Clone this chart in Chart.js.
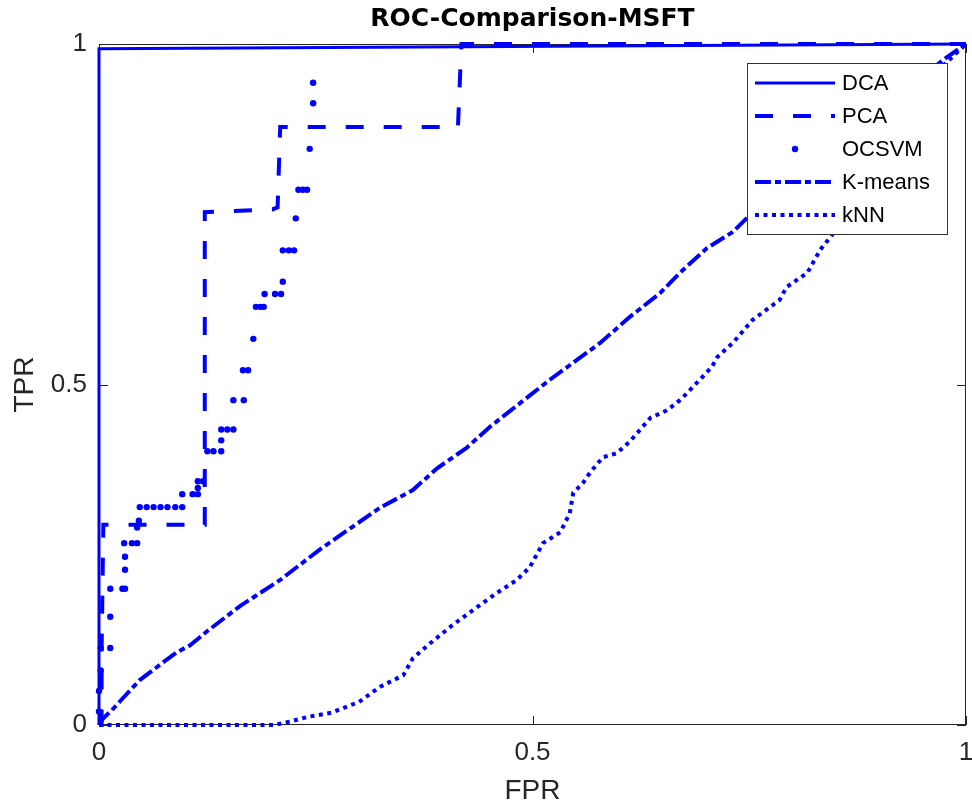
<!DOCTYPE html>
<html lang="en">
<head>
<meta charset="UTF-8">
<title>ROC-Comparison-MSFT</title>
<script src="https://cdn.jsdelivr.net/npm/chart.js"></script>
<style>
  html, body { margin: 0; padding: 0; background: #fff; }
  #wrap { width: 972px; height: 805px; }
</style>
</head>
<body>
<div id="wrap"><canvas id="chart" width="972" height="805"></canvas></div>
<script>
// ROC curves (FPR on x, TPR on y)
const dcaFpr = [0, 0, 1];
const dcaTpr = [0, 0.993, 1];

const pcaFpr = [0, 0.003, 0.003, 0.005, 0.122, 0.122, 0.2, 0.206, 0.209, 0.414, 0.418, 1];
const pcaTpr = [0, 0, 0.11, 0.294, 0.294, 0.753, 0.757, 0.76, 0.878, 0.878, 1, 1];

const ocsvmFpr = [0, 0, 0.002, 0.002, 0.013, 0.013, 0.013, 0.027, 0.03, 0.03, 0.03, 0.029, 0.038, 0.044, 0.044, 0.046,
  0.047, 0.055, 0.063, 0.071, 0.079, 0.088, 0.096, 0.096, 0.108, 0.114, 0.114, 0.114, 0.12, 0.125, 0.132, 0.141,
  0.141, 0.141, 0.148, 0.155, 0.155, 0.167, 0.166, 0.172, 0.178, 0.181, 0.186, 0.19, 0.191, 0.203, 0.21, 0.212,
  0.212, 0.219, 0.225, 0.227, 0.23, 0.235, 0.24, 0.243, 0.247, 0.247];
const ocsvmTpr = [0.02, 0.05, 0.08, 0.113, 0.113, 0.159, 0.2, 0.2, 0.2, 0.228, 0.247, 0.267, 0.267, 0.267, 0.29, 0.3,
  0.32, 0.32, 0.32, 0.32, 0.32, 0.32, 0.32, 0.339, 0.339, 0.339, 0.348, 0.358, 0.358, 0.402, 0.402, 0.402,
  0.418, 0.434, 0.434, 0.434, 0.477, 0.477, 0.521, 0.521, 0.567, 0.614, 0.614, 0.614, 0.633, 0.633, 0.633, 0.651,
  0.697, 0.697, 0.697, 0.744, 0.786, 0.786, 0.786, 0.846, 0.913, 0.943];

const kmeansFpr = [0, 0.005, 0.015, 0.028, 0.047, 0.073, 0.09, 0.105, 0.125, 0.163, 0.209, 0.255, 0.324, 0.362, 0.39,
  0.424, 0.451, 0.486, 0.52, 0.578, 0.612, 0.647, 0.67, 0.701, 0.731, 0.747, 0.85, 0.975, 1];
const kmeansTpr = [0, 0.01, 0.022, 0.04, 0.066, 0.091, 0.107, 0.117, 0.138, 0.175, 0.213, 0.258, 0.319, 0.345, 0.377,
  0.407, 0.438, 0.473, 0.507, 0.561, 0.599, 0.634, 0.664, 0.7, 0.724, 0.744, 0.85, 0.978, 1];

const knnFpr = [0, 0.1, 0.202, 0.22, 0.241, 0.268, 0.3, 0.324, 0.351, 0.362, 0.382, 0.408, 0.436, 0.459, 0.482, 0.497,
  0.512, 0.532, 0.543, 0.547, 0.558, 0.566, 0.581, 0.597, 0.612, 0.636, 0.655, 0.67, 0.678, 0.693, 0.707, 0.713,
  0.731, 0.754, 0.785, 0.793, 0.817, 0.832, 0.847, 0.9, 0.975, 1];
const knnTpr = [0, 0, 0, 0.005, 0.012, 0.018, 0.034, 0.056, 0.073, 0.098, 0.12, 0.147, 0.173, 0.194, 0.213, 0.232,
  0.267, 0.283, 0.311, 0.341, 0.355, 0.37, 0.393, 0.399, 0.416, 0.451, 0.462, 0.477, 0.487, 0.507, 0.526, 0.54,
  0.561, 0.595, 0.624, 0.643, 0.664, 0.698, 0.722, 0.84, 0.97, 1];

const seriesNames = ['DCA', 'PCA', 'OCSVM', 'K-means', 'kNN'];
const tickValues = [0, 0.5, 1];

const blue = '#0000ff';
const axisColor = '#262626';

function pts(xs, ys) {
  return xs.map((x, i) => ({ x: x, y: ys[i] }));
}

// MATLAB style box with inward ticks (under the data), legend on top
const matlabAxes = {
  id: 'matlabAxes',
  beforeDatasetsDraw(chart) {
    const { ctx, chartArea: a, scales } = chart;
    ctx.save();
    ctx.strokeStyle = axisColor;
    ctx.lineWidth = 1;
    ctx.strokeRect(a.left + 0.5, a.top + 0.5, a.right - a.left - 1, a.bottom - a.top - 1);
    const len = 9;
    ctx.beginPath();
    tickValues.forEach(v => {
      const px = Math.round(scales.x.getPixelForValue(v)) + 0.5;
      ctx.moveTo(px, a.bottom); ctx.lineTo(px, a.bottom - len);
      ctx.moveTo(px, a.top); ctx.lineTo(px, a.top + len);
      const py = Math.round(scales.y.getPixelForValue(v)) + 0.5;
      ctx.moveTo(a.left, py); ctx.lineTo(a.left + len, py);
      ctx.moveTo(a.right, py); ctx.lineTo(a.right - len, py);
    });
    ctx.stroke();
    ctx.restore();
  },
  afterDatasetsDraw(chart) {
    const { ctx, chartArea: a } = chart;
    ctx.save();
    const bw = 200, bh = 171;
    const bx = a.right - 19 - bw, by = a.top + 19;
    ctx.fillStyle = '#fff';
    ctx.fillRect(bx, by, bw, bh);
    ctx.strokeStyle = '#333';
    ctx.lineWidth = 1;
    ctx.strokeRect(bx + 0.5, by + 0.5, bw, bh);
    ctx.font = '22px "Liberation Sans", Arial, sans-serif';
    ctx.textBaseline = 'middle';
    ctx.textAlign = 'left';
    chart.data.datasets.forEach((ds, i) => {
      const y = by + 20 + i * 33;
      const x0 = bx + 8, x1 = bx + 88;
      ctx.strokeStyle = ds.borderColor;
      ctx.fillStyle = ds.borderColor;
      if (ds.showLine === false) {
        ctx.beginPath();
        ctx.arc((x0 + x1) / 2, y, ds.pointRadius, 0, Math.PI * 2);
        ctx.fill();
      } else {
        ctx.lineWidth = ds.borderWidth;
        ctx.setLineDash(ds.borderDash || []);
        ctx.beginPath();
        ctx.moveTo(x0, y); ctx.lineTo(x1, y);
        ctx.stroke();
        ctx.setLineDash([]);
      }
      ctx.fillStyle = '#000';
      ctx.fillText(ds.label, bx + 95, y + 1);
    });
    ctx.restore();
  }
};

const lineBase = {
  borderColor: blue,
  backgroundColor: blue,
  pointRadius: 0,
  tension: 0,
  fill: false,
  clip: 6
};

new Chart(document.getElementById('chart'), {
  type: 'line',
  data: {
    datasets: [
      Object.assign({ label: seriesNames[0], data: pts(dcaFpr, dcaTpr), borderWidth: 3, order: 5 }, lineBase),
      Object.assign({ label: seriesNames[1], data: pts(pcaFpr, pcaTpr), borderWidth: 4, borderDash: [18, 20], order: 4 }, lineBase),
      { label: seriesNames[2], data: pts(ocsvmFpr, ocsvmTpr), showLine: false, pointRadius: 3.2, pointHoverRadius: 3.2,
        pointBorderWidth: 0, borderColor: blue, backgroundColor: blue, pointBackgroundColor: blue, order: 3, clip: 6 },
      Object.assign({ label: seriesNames[3], data: pts(kmeansFpr, kmeansTpr), borderWidth: 4, borderDash: [16, 4, 6, 4], order: 2 }, lineBase),
      Object.assign({ label: seriesNames[4], data: pts(knnFpr, knnTpr), borderWidth: 4, borderDash: [4, 4.5], borderCapStyle: 'butt', order: 1 }, lineBase)
    ]
  },
  options: {
    responsive: false,
    animation: false,
    devicePixelRatio: 1,
    layout: { padding: { left: 0, right: 6, top: 0, bottom: 0 } },
    plugins: {
      legend: { display: false },
      tooltip: { enabled: false },
      title: {
        display: true,
        fullSize: false,
        text: 'ROC-Comparison-MSFT',
        color: '#000',
        font: { family: '"DejaVu Sans", sans-serif', size: 25, weight: 'bold' },
        padding: { top: 4, bottom: 10 }
      }
    },
    scales: {
      x: {
        type: 'linear',
        min: 0,
        max: 1,
        afterFit: s => { s.height = 80; s.paddingLeft = 0; s.paddingRight = 0; },
        afterBuildTicks: s => { s.ticks = tickValues.map(v => ({ value: v })); },
        grid: { display: false, drawTicks: false },
        border: { display: false },
        ticks: {
          padding: 12,
          color: axisColor,
          font: { family: '"Liberation Sans", Arial, sans-serif', size: 26 },
          callback: v => String(v)
        },
        title: {
          display: true,
          text: 'FPR',
          color: axisColor,
          font: { family: '"Liberation Sans", Arial, sans-serif', size: 28 },
          padding: { top: 0, bottom: -3 }
        }
      },
      y: {
        type: 'linear',
        min: 0,
        max: 1,
        afterFit: s => { s.width = 99; s.paddingTop = 0; s.paddingBottom = 0; },
        afterBuildTicks: s => { s.ticks = tickValues.map(v => ({ value: v })); },
        grid: { display: false, drawTicks: false },
        border: { display: false },
        ticks: {
          padding: 12,
          color: axisColor,
          font: { family: '"Liberation Sans", Arial, sans-serif', size: 26 },
          callback: v => String(v)
        },
        title: {
          display: true,
          text: 'TPR',
          color: axisColor,
          font: { family: '"Liberation Sans", Arial, sans-serif', size: 28 },
          padding: { top: 8, bottom: 0 }
        }
      }
    }
  },
  plugins: [matlabAxes]
});
</script>
</body>
</html>
